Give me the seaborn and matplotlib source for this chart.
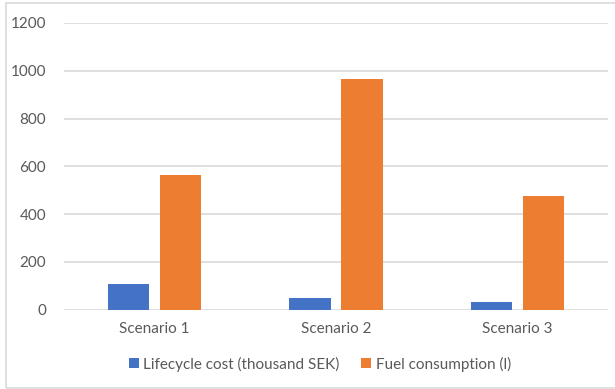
import matplotlib
matplotlib.use("Agg")
import matplotlib.pyplot as plt
import seaborn as sns
import pandas as pd
from matplotlib.patches import Rectangle

categories = ["Scenario 1", "Scenario 2", "Scenario 3"]
series_names = ["Lifecycle cost (thousand SEK)", "Fuel consumption (l)"]
lifecycle_cost = [107, 48, 34]
fuel_consumption = [563, 965, 474]
y_ticks = [0, 200, 400, 600, 800, 1000, 1200]
colors = ["#4472C4", "#ED7D31"]

df = pd.DataFrame({
    "Scenario": categories * 2,
    "Series": [series_names[0]] * 3 + [series_names[1]] * 3,
    "Value": lifecycle_cost + fuel_consumption,
})

sns.set_theme(style="white")
plt.rcParams["font.family"] = ["Lato", "DejaVu Sans"]

fig = plt.figure(figsize=(6.15, 3.89), dpi=100)
ax = fig.add_axes([64 / 615, 1 - 309.7 / 389, 544 / 615, (309.7 - 23) / 389])

sns.barplot(data=df, x="Scenario", y="Value", hue="Series", palette=colors,
            width=0.574, gap=0.21, ax=ax, saturation=1, legend=True,
            edgecolor="none")

ax.set_ylim(0, 1200)
ax.set_xlim(-0.5, 2.5)
ax.set_yticks(y_ticks)
ax.set_yticklabels([str(t) for t in y_ticks])
ax.yaxis.grid(True, color="#D9D9D9", linewidth=1.2)
ax.set_axisbelow(True)
for s in ax.spines.values():
    s.set_visible(False)
ax.tick_params(axis="both", length=0, labelsize=11, colors="#595959")
ax.tick_params(axis="y", pad=13)
ax.tick_params(axis="x", pad=9)
ax.set_xlabel("")
ax.set_ylabel("")

leg = ax.legend(loc="center", bbox_to_anchor=(320 / 615, 1 - 364 / 389),
                bbox_transform=fig.transFigure, ncol=2, frameon=False,
                fontsize=11, handlelength=0.65, handleheight=0.65,
                handletextpad=0.3, columnspacing=1.4)
for t in leg.get_texts():
    t.set_color("#595959")

fig.patches.append(Rectangle((6 / 615, 1 / 389), 1.0, 1 - 4 / 389,
                             transform=fig.transFigure, fill=False,
                             edgecolor="#D9D9D9", linewidth=1.2))

fig.savefig("out.png", dpi=100, facecolor="white")
